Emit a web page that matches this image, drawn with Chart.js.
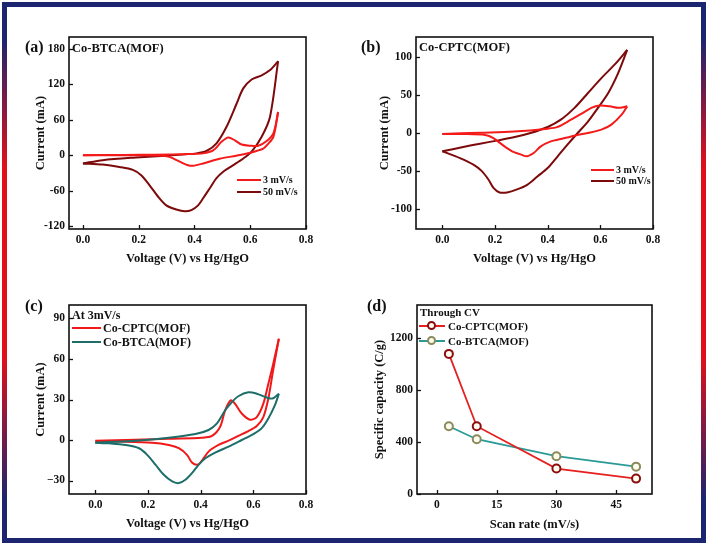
<!DOCTYPE html>
<html><head><meta charset="utf-8">
<script src="https://cdn.jsdelivr.net/npm/chart.js@4/dist/chart.umd.min.js"></script>
<style>
html,body{margin:0;padding:0;background:#fff;}
body{width:709px;height:546px;position:relative;overflow:hidden;font-family:"Liberation Serif","Times New Roman",serif;font-weight:bold;color:#111;}
.frame{position:absolute;left:2px;top:2px;width:694px;height:531px;border:5px solid #1c2a6e;border-image:linear-gradient(to bottom,#1b2570 0%,#1b2570 6%,#e0101a 30%,#e0101a 66%,#1b2570 93%,#1b2570 100%) 1;pointer-events:none;}
canvas{position:absolute;}
.t{position:absolute;white-space:nowrap;}
.pl{font-size:16px;line-height:18px;}
.it{font-size:12.5px;line-height:14px;}
.leg{position:absolute;white-space:nowrap;display:flex;align-items:center;}
.ln{display:inline-block;height:2px;margin-right:2px;}
.mk{position:relative;display:inline-block;width:26px;height:14px;margin-right:3px;}
.mk i{position:absolute;left:0;right:0;top:6px;height:2px;}
.mk b{position:absolute;left:8px;top:2px;width:5px;height:5px;border:2px solid;border-radius:50%;background:#fffdf0;}
</style>
</head><body>
<canvas id="cA" width="354" height="273" style="left:0;top:0"></canvas>
<canvas id="cB" width="355" height="273" style="left:354px;top:0"></canvas>
<canvas id="cC" width="354" height="273" style="left:0;top:273px"></canvas>
<canvas id="cD" width="355" height="273" style="left:354px;top:273px"></canvas>
<div class="frame"></div>

<div class="t pl" style="left:25px;top:38px">(a)</div>
<div class="t pl" style="left:361px;top:38px">(b)</div>
<div class="t pl" style="left:25px;top:297px">(c)</div>
<div class="t pl" style="left:367px;top:297px">(d)</div>

<div class="t it" style="left:72px;top:41px">Co-BTCA(MOF)</div>
<div class="t it" style="left:419px;top:40px">Co-CPTC(MOF)</div>

<div class="leg" style="left:237px;top:173px;font-size:10px;line-height:13px"><span class="ln" style="width:24px;background:#f51a1a"></span>3 mV/s</div>
<div class="leg" style="left:237px;top:185px;font-size:10px;line-height:13px"><span class="ln" style="width:24px;background:#7d0a0a"></span>50 mV/s</div>

<div class="leg" style="left:591px;top:163px;font-size:10px;line-height:13px"><span class="ln" style="width:23px;background:#f51a1a"></span>3 mV/s</div>
<div class="leg" style="left:591px;top:174px;font-size:10px;line-height:13px"><span class="ln" style="width:23px;background:#7d0a0a"></span>50 mV/s</div>

<div class="t" style="left:72px;top:308px;font-size:12px;line-height:14px">At 3mV/s</div>
<div class="leg" style="left:72px;top:321px;font-size:12px;line-height:14px"><span class="ln" style="width:29px;background:#f01818"></span>Co-CPTC(MOF)</div>
<div class="leg" style="left:72px;top:335px;font-size:12px;line-height:14px"><span class="ln" style="width:29px;background:#1d6e69"></span>Co-BTCA(MOF)</div>

<div class="t" style="left:420px;top:305px;font-size:11px;line-height:14px">Through CV</div>
<div class="leg" style="left:419px;top:319px;font-size:11px;line-height:14px"><span class="mk"><i style="background:#e62020"></i><b style="border-color:#8b0d0d"></b></span>Co-CPTC(MOF)</div>
<div class="leg" style="left:419px;top:334px;font-size:11px;line-height:14px"><span class="mk"><i style="background:#2a9a96"></i><b style="border-color:#8a8a5a"></b></span>Co-BTCA(MOF)</div>

<script>
// ---------- Panel (a): Co-BTCA(MOF) CV ----------
const a3_V  = [0, 0.10, 0.20, 0.31, 0.38, 0.43, 0.467, 0.497, 0.521, 0.545, 0.569, 0.60, 0.629, 0.659, 0.683, 0.70, 0.683, 0.66, 0.647, 0.60, 0.55, 0.49, 0.431, 0.395, 0.377, 0.347, 0.31, 0.287, 0.25, 0.15, 0];
const a3_I  = [0, 0.2, 0.5, 1, 2, 3, 8, 22.5, 30, 25, 18, 16, 16, 24, 37, 73, 31, 17, 11, 4, -1, -6, -14, -18, -17, -11, -3, -1, -0.5, -0.3, 0];
const a50_V = [0, 0.071, 0.19, 0.31, 0.407, 0.443, 0.479, 0.515, 0.551, 0.575, 0.605, 0.641, 0.671, 0.70, 0.671, 0.641, 0.605, 0.575, 0.539, 0.503, 0.479, 0.455, 0.431, 0.413, 0.389, 0.365, 0.335, 0.299, 0.269, 0.239, 0.209, 0.179, 0.131, 0.071, 0];
const a50_I = [-14, -8.5, -4, -0.5, 3, 7, 20, 48, 87, 113, 128, 135, 144, 159, 65, 31, 6, -5.6, -17, -28, -39, -56, -73, -85, -93, -95, -92, -85, -70, -51, -34, -25, -20, -16, -14];

// ---------- Panel (b): Co-CPTC(MOF) CV ----------
const b3_V  = [0, 0.143, 0.271, 0.40, 0.438, 0.489, 0.527, 0.566, 0.598, 0.636, 0.668, 0.702, 0.681, 0.642, 0.604, 0.553, 0.502, 0.45, 0.412, 0.374, 0.348, 0.322, 0.297, 0.265, 0.226, 0.194, 0.163, 0.079, 0];
const b3_I  = [-1.3, 0.4, 2, 5.7, 8, 17.5, 25, 33, 36, 35, 33, 35, 24, 11, 4.4, 0, -3.5, -7.9, -11, -17.5, -26, -30.6, -28, -24, -15, -6.6, -2.6, -1.3, -1.3];
const b50_V = [0, 0.079, 0.143, 0.207, 0.271, 0.335, 0.40, 0.45, 0.502, 0.553, 0.604, 0.655, 0.702, 0.668, 0.63, 0.591, 0.553, 0.514, 0.476, 0.438, 0.40, 0.361, 0.322, 0.284, 0.246, 0.2175, 0.194, 0.175, 0.15, 0.118, 0.067, 0];
const b50_I = [-24, -18.4, -14, -10, -5.7, 0, 7.9, 17.5, 33, 52.5, 72, 90, 109, 79, 52.5, 33, 15, 0, -15, -30.6, -46, -57, -68, -74, -78, -78, -72, -61, -50, -41.6, -33, -24];

// ---------- Panel (c): comparison at 3 mV/s ----------
const cCPTC_V = [0, 0.153, 0.279, 0.405, 0.443, 0.474, 0.493, 0.514, 0.53, 0.556, 0.587, 0.613, 0.638, 0.657, 0.675, 0.697, 0.675, 0.657, 0.638, 0.613, 0.581, 0.543, 0.506, 0.468, 0.43, 0.399, 0.386, 0.367, 0.348, 0.317, 0.279, 0.216, 0.09, 0];
const cCPTC_I = [-0.5, 0.2, 1, 1.7, 3, 9.8, 22, 29.4, 27, 19.6, 15, 17, 27, 41.7, 56, 75, 51.5, 30.7, 17, 10.3, 6.6, 3, -0.5, -3.7, -8.6, -16.7, -18.4, -16.7, -11, -6.1, -3.7, -2, -1.2, -1];
const cBTCA_V = [0, 0.153, 0.279, 0.38, 0.43, 0.462, 0.493, 0.518, 0.543, 0.581, 0.613, 0.645, 0.672, 0.697, 0.682, 0.657, 0.631, 0.60, 0.556, 0.506, 0.455, 0.418, 0.392, 0.367, 0.342, 0.317, 0.292, 0.26, 0.229, 0.197, 0.166, 0.116, 0.053, 0];
const cBTCA_I = [-2, -0.5, 1.7, 4.4, 7.4, 12.3, 22, 28, 32.4, 35.3, 34.3, 31.9, 30.7, 34.3, 25.8, 16, 8.6, 4.4, 0, -4.9, -9.3, -13.5, -18.4, -24.5, -29.4, -31.9, -30.7, -25.8, -18.4, -11, -6.1, -3.7, -2.5, -2];

// ---------- Panel (d): specific capacity ----------
const scanRates = [3, 10, 30, 50];
const capCPTC   = [1075, 520, 195, 118];
const capBTCA   = [520, 420, 290, 210];

// ---------- tick values ----------
const vTicks   = [0, 0.2, 0.4, 0.6, 0.8];
const aIticks  = [-120, -60, 0, 60, 120, 180];
const bIticks  = [-100, -50, 0, 50, 100];
const cIticks  = [-30, 0, 30, 60, 90];
const dXticks  = [0, 15, 30, 45];
const dYticks  = [0, 400, 800, 1200];

const FONT = 'Liberation Serif';
const INK = '#111';
Chart.defaults.font.family = FONT;
Chart.defaults.font.weight = 'bold';
Chart.defaults.color = INK;

const boxTicks = {
  id: 'boxTicks',
  afterDraw(chart) {
    const {ctx, chartArea: a, scales} = chart;
    ctx.save();
    ctx.strokeStyle = INK;
    ctx.lineWidth = 1.3;
    const L = 4;
    scales.x.ticks.forEach(t => {
      const p = Math.round(scales.x.getPixelForValue(t.value)) + 0.5;
      ctx.beginPath(); ctx.moveTo(p, a.bottom); ctx.lineTo(p, a.bottom - L); ctx.stroke();
    });
    scales.y.ticks.forEach(t => {
      const p = Math.round(scales.y.getPixelForValue(t.value)) + 0.5;
      ctx.beginPath(); ctx.moveTo(a.left, p); ctx.lineTo(a.left + L, p); ctx.stroke();
    });
    ctx.lineWidth = 1.6;
    ctx.strokeRect(a.left, a.top, a.right - a.left, a.bottom - a.top);
    ctx.restore();
  }
};

function pts(xs, ys) { return xs.map((x, i) => ({x, y: ys[i]})); }
function loop(xs, ys, color) {
  // split a closed CV loop at its vertex potential into forward and reverse sweeps
  let im = 0; xs.forEach((x, i) => { if (x > xs[im]) im = i; });
  const p = pts(xs, ys);
  const base = {borderColor: color, borderWidth: 2, pointRadius: 0, showLine: true, tension: 0.3, fill: false};
  return [Object.assign({data: p.slice(0, im + 1)}, base), Object.assign({data: p.slice(im)}, base)];
}

const tickFont = {family: FONT, size: 11.5, weight: 'bold'};
const titleFont = {family: FONT, size: 12.5, weight: 'bold'};

function makeChart(id, datasets, o) {
  return new Chart(document.getElementById(id), {
    type: 'scatter',
    data: {datasets},
    plugins: [boxTicks],
    options: {
      responsive: false, animation: false, devicePixelRatio: 1,
      layout: {padding: o.pad},
      plugins: {legend: {display: false}, tooltip: {enabled: false}},
      scales: {
        x: {
          type: 'linear', min: o.xmin, max: o.xmax,
          grid: {display: false, drawTicks: false}, border: {display: false},
          ticks: {font: tickFont, color: INK, padding: 4, maxRotation: 0, autoSkip: false, callback: o.xcb},
          afterBuildTicks: s => { s.ticks = o.xt.map(v => ({value: v})); },
          title: {display: true, text: o.xtitle, font: titleFont, color: INK, padding: 0},
          afterFit: s => { s.height = o.xh; }
        },
        y: {
          type: 'linear', min: o.ymin, max: o.ymax,
          grid: {display: false, drawTicks: false}, border: {display: false},
          ticks: {font: tickFont, color: INK, padding: 4, autoSkip: false, callback: o.ycb},
          afterBuildTicks: s => { s.ticks = o.yt.map(v => ({value: v})); },
          title: {display: true, text: o.ytitle, font: titleFont, color: INK, padding: 0},
          afterFit: s => { s.width = o.yw; }
        }
      }
    }
  });
}

const RED = '#f51a1a', DARK = '#7d0a0a', TEAL = '#1d6e69';
const vFmt = v => v.toFixed(1);
const VLAB = 'Voltage (V) vs Hg/HgO', ILAB = 'Current (mA)';

makeChart('cA', [...loop(a3_V, a3_I, RED), ...loop(a50_V, a50_I, DARK)], {
  pad: {left: 33, right: 48, top: 37, bottom: 7}, yw: 36, xh: 37,
  xmin: -0.05, xmax: 0.8, xt: vTicks, xcb: vFmt, ymin: -125, ymax: 200, yt: aIticks,
  ycb: v => String(v), xtitle: VLAB, ytitle: ILAB
});
makeChart('cB', [...loop(b3_V, b3_I, RED), ...loop(b50_V, b50_I, DARK)], {
  pad: {left: 23, right: 56, top: 37, bottom: 7}, yw: 39, xh: 37,
  xmin: -0.1, xmax: 0.8, xt: vTicks, xcb: vFmt, ymin: -126, ymax: 126, yt: bIticks,
  ycb: v => String(v), xtitle: VLAB, ytitle: ILAB
});
makeChart('cC', [...loop(cBTCA_V, cBTCA_I, TEAL), ...loop(cCPTC_V, cCPTC_I, '#f01818')], {
  pad: {left: 33, right: 48, top: 32, bottom: 15}, yw: 36, xh: 37,
  xmin: -0.1, xmax: 0.8, xt: vTicks, xcb: vFmt, ymin: -40, ymax: 100, yt: cIticks,
  ycb: v => String(v).replace('-', '\u2212'), xtitle: VLAB, ytitle: ILAB
});
makeChart('cD', [
  {data: pts(scanRates, capCPTC), showLine: true, borderColor: '#e62020', borderWidth: 1.8,
   pointRadius: 4, pointBorderWidth: 2, pointBorderColor: '#8b0d0d', pointBackgroundColor: '#fffdf0'},
  {data: pts(scanRates, capBTCA), showLine: true, borderColor: '#2a9a96', borderWidth: 1.8,
   pointRadius: 4, pointBorderWidth: 2, pointBorderColor: '#8a8a5a', pointBackgroundColor: '#fffdf0'}
], {
  pad: {left: 18, right: 57, top: 32, bottom: 14}, yw: 45, xh: 38,
  xmin: -5, xmax: 54, xt: dXticks, xcb: v => String(v), ymin: 0, ymax: 1450, yt: dYticks,
  ycb: v => String(v), xtitle: 'Scan rate (mV/s)', ytitle: 'Specific capacity (C/g)'
});
</script>
</body></html>
